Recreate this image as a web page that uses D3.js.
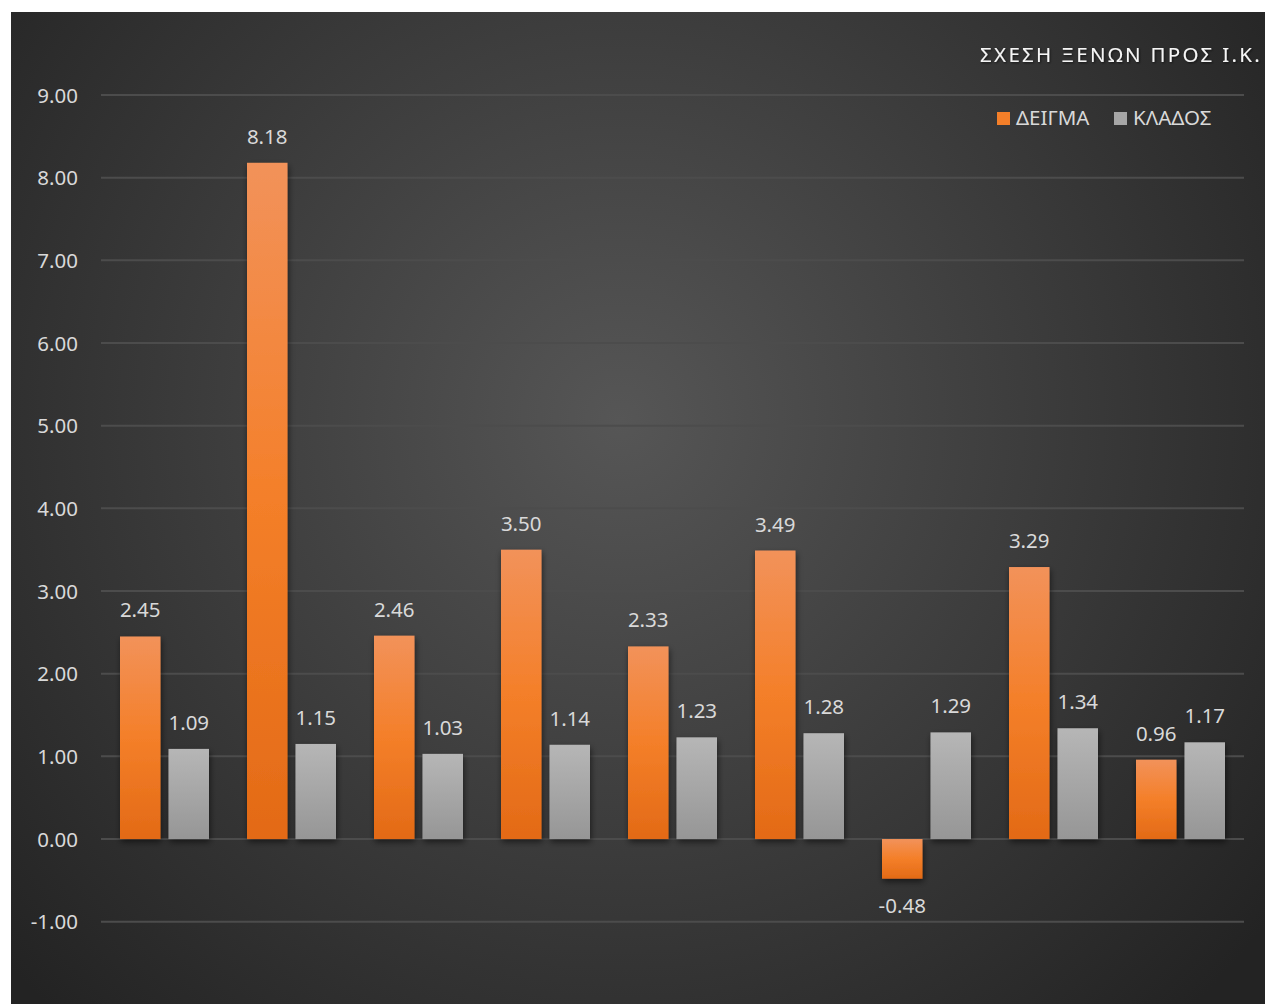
<!DOCTYPE html>
<html><head><meta charset="utf-8">
<script src="https://cdn.jsdelivr.net/npm/d3@7"></script>
<style>html,body{margin:0;padding:0;background:#fff;overflow:hidden}</style>
</head><body>
<svg id="c" width="1265" height="1004"></svg>
<script>
const categories = ["1","2","3","4","5","6","7","8","9"];
const seriesNames = ["ΔΕΙΓΜΑ","ΚΛΑΔΟΣ"];
const deigma = [2.45, 8.18, 2.46, 3.50, 2.33, 3.49, -0.48, 3.29, 0.96];
const klados = [1.09, 1.15, 1.03, 1.14, 1.23, 1.28, 1.29, 1.34, 1.17];
const yTicks = [-1,0,1,2,3,4,5,6,7,8,9];
const title = "ΣΧΕΣΗ ΞΕΝΩΝ ΠΡΟΣ Ι.Κ.";

const svg = d3.select("#c");
const font = "'Noto Sans', 'Open Sans', sans-serif";
const fmt = d => d3.format(".2f")(d).replace("\u2212","-");
const defs = svg.append("defs");
const rg = defs.append("radialGradient").attr("id","bg").attr("gradientUnits","userSpaceOnUse")
  .attr("cx",620).attr("cy",420).attr("r",820);
rg.append("stop").attr("offset","0%").attr("stop-color","#565656");
rg.append("stop").attr("offset","100%").attr("stop-color","#232323");
const og = defs.append("linearGradient").attr("id","og").attr("x1",0).attr("y1",0).attr("x2",0).attr("y2",1);
og.append("stop").attr("offset","0%").attr("stop-color","#f2925a");
og.append("stop").attr("offset","50%").attr("stop-color","#f47f29");
og.append("stop").attr("offset","100%").attr("stop-color","#e36a16");
const gg = defs.append("linearGradient").attr("id","gg").attr("x1",0).attr("y1",0).attr("x2",0).attr("y2",1);
gg.append("stop").attr("offset","0%").attr("stop-color","#b6b6b6");
gg.append("stop").attr("offset","100%").attr("stop-color","#969696");
const sh = defs.append("filter").attr("id","sh").attr("x","-20%").attr("y","-20%").attr("width","150%").attr("height","150%");
sh.append("feDropShadow").attr("dx",1).attr("dy",3).attr("stdDeviation",3).attr("flood-color","#000").attr("flood-opacity",0.55);
const tsh = defs.append("filter").attr("id","tsh");
tsh.append("feDropShadow").attr("dx",1).attr("dy",1).attr("stdDeviation",1).attr("flood-color","#000").attr("flood-opacity",0.6);

svg.append("rect").attr("x",11).attr("y",12).attr("width",1254).attr("height",992).attr("fill","url(#bg)");

const x0 = d3.scaleBand().domain(categories).range([101,1244]).paddingInner(0).paddingOuter(0);
const y = d3.scaleLinear().domain([-1,9]).range([921.7,95]);
const inner = d3.scaleBand().domain(seriesNames).range([19, x0.bandwidth()-19]).paddingInner(0.165);

// gridlines
svg.append("g").selectAll("line").data(yTicks).join("line")
  .attr("x1",101).attr("x2",1244).attr("y1",d=>y(d)).attr("y2",d=>y(d))
  .attr("stroke","#4c4c4c").attr("stroke-width",2);

// y axis labels
const yAxis = d3.axisLeft(y).tickValues(yTicks).tickFormat(fmt).tickSize(0).tickPadding(0);
const ya = svg.append("g").attr("transform","translate(78,0)").call(yAxis);
ya.select(".domain").remove();
ya.selectAll("text").attr("fill","#d9d9d9").style("font-family",font).style("font-size","20.5px").attr("dy","0.35em");

const data = categories.map((c,i)=>({c, vals:[{s:seriesNames[0],v:deigma[i]},{s:seriesNames[1],v:klados[i]}]}));
const groups = svg.append("g").selectAll("g").data(data).join("g").attr("transform",d=>`translate(${x0(d.c)},0)`);
groups.selectAll("rect").data(d=>d.vals).join("rect")
  .attr("x",d=>inner(d.s)).attr("width",inner.bandwidth())
  .attr("y",d=>y(Math.max(0,d.v))).attr("height",d=>Math.abs(y(d.v)-y(0)))
  .attr("fill",d=>d.s===seriesNames[0]?"url(#og)":"url(#gg)")
  .attr("filter","url(#sh)");
groups.selectAll("text").data(d=>d.vals).join("text")
  .attr("x",d=>inner(d.s)+inner.bandwidth()/2)
  .attr("y",d=>d.v>=0? y(d.v)-19 : y(d.v)+34)
  .attr("text-anchor","middle").attr("fill","#d9d9d9")
  .style("font-family",font).style("font-size","20.5px")
  .text(d=>fmt(d.v));

// title
svg.append("text").attr("x",1262).attr("y",62).attr("text-anchor","end")
  .attr("fill","#f5f5f5").style("font-family",font).style("font-size","20.5px")
  .style("letter-spacing","2.3px").attr("filter","url(#tsh)").text(title);

// legend
const leg = [{n:seriesNames[0],x:997,f:"#f47f29"},{n:seriesNames[1],x:1114,f:"#a6a6a6"}];
const lg = svg.append("g").selectAll("g").data(leg).join("g");
lg.append("rect").attr("x",d=>d.x).attr("y",112).attr("width",13).attr("height",13).attr("fill",d=>d.f);
lg.append("text").attr("x",d=>d.x+19).attr("y",125).attr("fill","#d9d9d9")
  .style("font-family",font).style("font-size","20.5px").text(d=>d.n);
</script>
</body></html>
